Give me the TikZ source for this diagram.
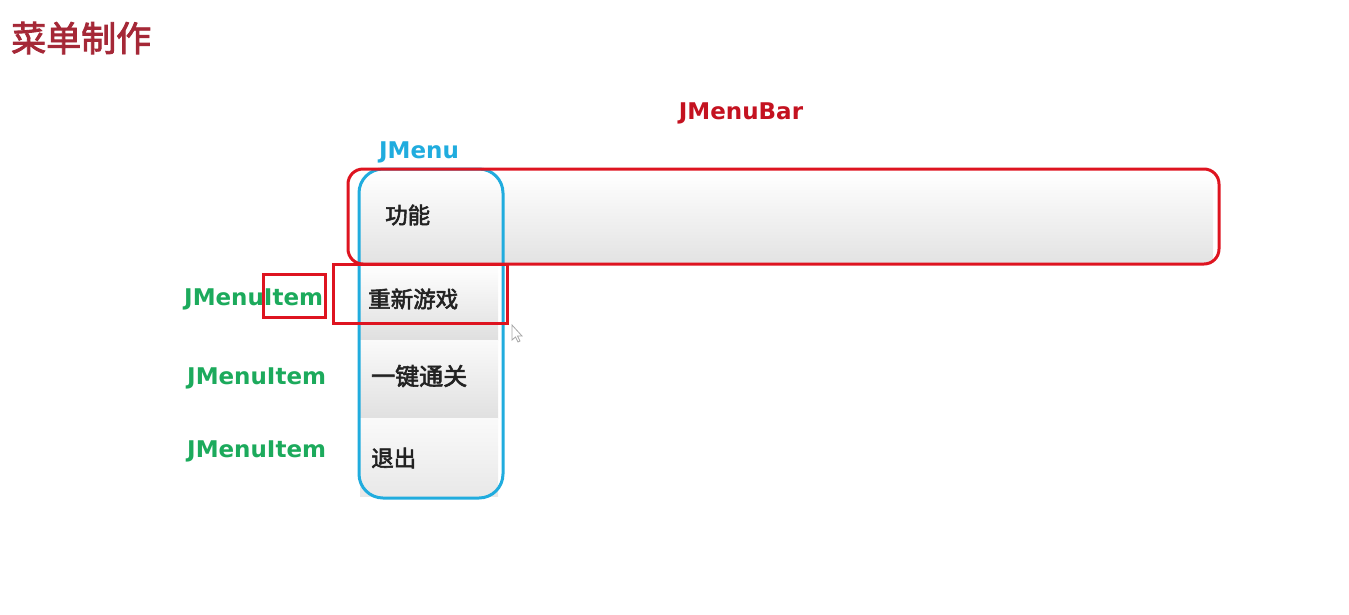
\documentclass[tikz,border=0pt]{standalone}
\usepackage{fontspec}
\newfontfamily\lat{DejaVu Sans}
\newfontfamily\cjk{Noto Sans CJK SC}[FakeBold=2.5]
\definecolor{titlered}{RGB}{165,40,55}
\definecolor{barred}{RGB}{196,18,32}
\definecolor{linered}{RGB}{222,20,32}
\definecolor{menublue}{RGB}{32,172,222}
\definecolor{itemgreen}{RGB}{28,170,92}
\definecolor{itemtext}{RGB}{34,34,34}
\tikzset{
	lbl/.style={font=\lat\bfseries\fontsize{23}{25}\selectfont, inner sep=0pt},
	cn/.style={font=\cjk\fontsize{22.5}{25}\selectfont, text=itemtext, inner sep=0pt, anchor=west},
	bg/.style={top color=white, bottom color=gray!22, draw=none},
	frame/.style={draw, line width=3pt, minimum width=#1, inner sep=0pt},
}
\begin{document}
\begin{tikzpicture}[x=1pt,y=-1pt]
		\useasboundingbox (0,0) rectangle (1349,614);
		% backgrounds
		\shade[bg] (360,172) rectangle (1213,262);
		\shade[top color=white, bottom color=gray!25] (360,264) rectangle (498,340);
		\shade[top color=gray!4, bottom color=gray!24] (360,340) rectangle (498,418);
		\shade[top color=gray!4, bottom color=gray!18] (360,418) rectangle (498,496);
		% title
		\node[font=\cjk\fontsize{35}{38}\selectfont, text=titlered, inner sep=0pt, anchor=west] (title) at (11,38) {菜单制作};
		% boxes
		\node[frame=144pt, draw=menublue, minimum height=329pt, rounded corners=24pt] (menu) at (431,333.5) {};
		\node[frame=871pt, draw=linered, minimum height=95pt, rounded corners=15pt] (bar) at (783.5,216.5) {};
		\node[frame=174pt, draw=linered, minimum height=59pt] (sel) at (420,293.5) {};
		% labels
		\node[lbl, text=barred] (barlbl) at (741,113.5) {JMenuBar};
		\node[lbl, text=menublue] (menulbl) at (419,152.5) {JMenu};
		\node[lbl, text=itemgreen, anchor=west] (item1) at (184,299.5) {JMenuItem};
		\node[lbl, text=itemgreen, anchor=west] (item2) at (187,378.5) {JMenuItem};
		\node[lbl, text=itemgreen, anchor=west] (item3) at (187,451.5) {JMenuItem};
		\node[frame=62pt, draw=linered, minimum height=43pt] (itembox) at (294,295.5) {};
		% menu texts
		\node[cn] (fn) at (385,215) {功能};
		\node[cn] (restart) at (368,299) {重新游戏};
		\node[cn, font=\cjk\fontsize{24}{26}\selectfont] (pass) at (371,376) {一键通关};
		\node[cn] (quit) at (371,458) {退出};
		% cursor
		\draw[gray!70, fill=white, line width=.8pt] (512,325) -- (512,340) -- (515.5,337) -- (518,342) -- (520,341) -- (517.5,336) -- (522,336) -- cycle;
	\end{tikzpicture}
\end{document}
